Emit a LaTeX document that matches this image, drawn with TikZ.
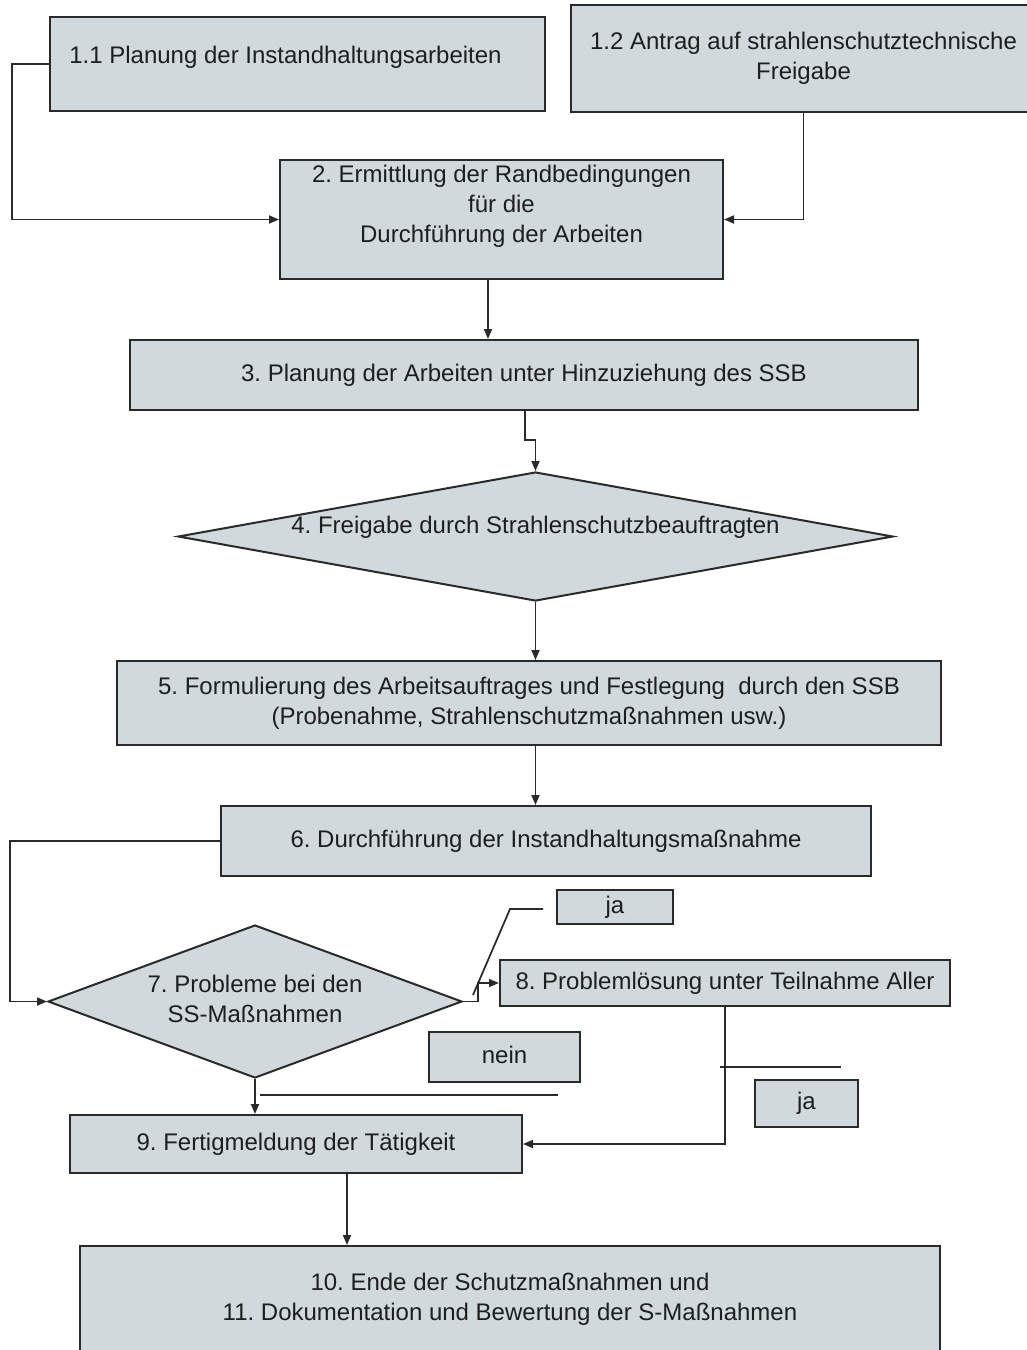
\documentclass[tikz,border=0pt]{standalone}
\usepackage{fontspec}
\setmainfont{Liberation Sans}
\usetikzlibrary{arrows.meta,shapes.geometric}
\definecolor{boxfill}{HTML}{D1D9DD}
\definecolor{edgec}{HTML}{2A2A2A}
\definecolor{ink}{HTML}{1E1E1E}
\newcommand\txt[2][0pt]{\raisebox{#1}[\height][\depth]{\begin{tabular}{@{}c@{}}#2\end{tabular}}}
\begin{document}
\frenchspacing
\begin{tikzpicture}[x=0.75pt,y=-0.75pt,
  every node/.style={font=\fontsize{18}{22.5}\selectfont\frenchspacing, text=ink},
  box/.style={rectangle, draw=edgec, line width=1.5pt, fill=boxfill, inner sep=0pt, align=center},
  dia/.style={diamond, draw=edgec, line width=1.5pt, fill=boxfill, inner sep=0pt, align=center},
  conn/.style={draw=edgec, line width=1.3pt},
  arr/.style={conn, -{Triangle[length=7.5pt,width=6pt]}}]
\useasboundingbox (0,0) rectangle (1027,1350);
\fill[white] (0,0) rectangle (1027,1350);

% boxes
\node[box, minimum width=371.25pt, minimum height=70.5pt] (b11) at (297.5,64)
  {\txt[5.25pt]{1.1 Planung der Instandhaltungsarbeiten\hspace*{18pt}}};
\node[box, minimum width=348.75pt, minimum height=80.25pt] (b12) at (803.5,58.5)
  {\txt{1.2 Antrag auf strahlenschutztechnische\\Freigabe}};
\node[box, minimum width=332.25pt, minimum height=89.25pt] (b2) at (501.5,219.5)
  {\txt[10pt]{2. Ermittlung der Randbedingungen\\für die\\Durchführung der Arbeiten}};
\node[box, minimum width=591pt, minimum height=52.5pt] (b3) at (524,375)
  {\txt{3. Planung der Arbeiten unter Hinzuziehung des SSB}};
\node[dia, shape aspect=7, minimum width=536.25pt, minimum height=96.75pt] (d4) at (535.5,536.5)
  {\txt[6.4pt]{4. Freigabe durch Strahlenschutzbeauftragten}};
\node[box, minimum width=618pt, minimum height=63pt] (b5) at (529,703)
  {\txt{5. Formulierung des Arbeitsauftrages und Festlegung\ \ durch den SSB\\(Probenahme, Strahlenschutzmaßnahmen usw.)}};
\node[box, minimum width=487.5pt, minimum height=52.5pt] (b6) at (546,841)
  {\txt{6. Durchführung der Instandhaltungsmaßnahme}};
\node[dia, shape aspect=2.7, minimum width=310.5pt, minimum height=114.75pt] (d7) at (255,1001.5)
  {\txt{7. Probleme bei den\\SS-Maßnahmen}};
\node[box, minimum width=337.5pt, minimum height=34.5pt] (b8) at (725,983)
  {\txt{8. Problemlösung unter Teilnahme Aller}};
\node[box, minimum width=87pt, minimum height=25.5pt] (ja1) at (615,907)
  {\txt{ja}};
\node[box, minimum width=113.25pt, minimum height=37.5pt] (nein) at (504.5,1057)
  {\txt{nein}};
\node[box, minimum width=77.25pt, minimum height=35.25pt] (ja2) at (806.5,1103.5)
  {\txt{ja}};
\node[box, minimum width=339pt, minimum height=43.5pt] (b9) at (296,1144)
  {\txt{9. Fertigmeldung der Tätigkeit}};
\node[box, minimum width=645pt, minimum height=80.25pt] (b10) at (510,1299.5)
  {\txt{10. Ende der Schutzmaßnahmen und\\11. Dokumentation und Bewertung der S-Maßnahmen}};

% helper coordinates
\coordinate (k1) at (12,0);
\coordinate (k2) at (488,0);
\coordinate (k3) at (525,440);
\coordinate (k4) at (10,0);
\coordinate (k5) at (478,0);
\coordinate (k6) at (347,0);
\coordinate (ja1a) at (473,995);
\coordinate (ja1b) at (510,909);
\coordinate (ja1c) at (543,909);
\coordinate (neina) at (260,1095);
\coordinate (neinb) at (558,1095);
\coordinate (ja2a) at (720,1067);
\coordinate (ja2b) at (841,1067);

% connectors
\draw[arr] (b11.west) -- (b11.west -| k1) |- (b2.west);
\draw[arr] (b12.south) |- (b2.east);
\draw[arr] (b2.south -| k2) -- (b3.north -| k2);
\draw[arr] (b3.south -| k3) -- (k3) -| (d4.north);
\draw[arr] (d4.south) -- (d4.south |- b5.north);
\draw[arr] (d4.south |- b5.south) -- (d4.south |- b6.north);
\draw[arr] (b6.west) -- (b6.west -| k4) |- (d7.west);
\draw[arr] (d7.east) -- (d7.east -| k5) |- (b8.west);
\draw[arr] (d7.south) -- (d7.south |- b9.north);
\draw[arr] (b8.south) |- (b9.east);
\draw[arr] (b9.south -| k6) -- (b10.north -| k6);

% callout lines
\draw[conn] (ja1a) -- (ja1b) -- (ja1c);
\draw[conn] (neina) -- (neinb);
\draw[conn] (ja2a) -- (ja2b);
\end{tikzpicture}
\end{document}
